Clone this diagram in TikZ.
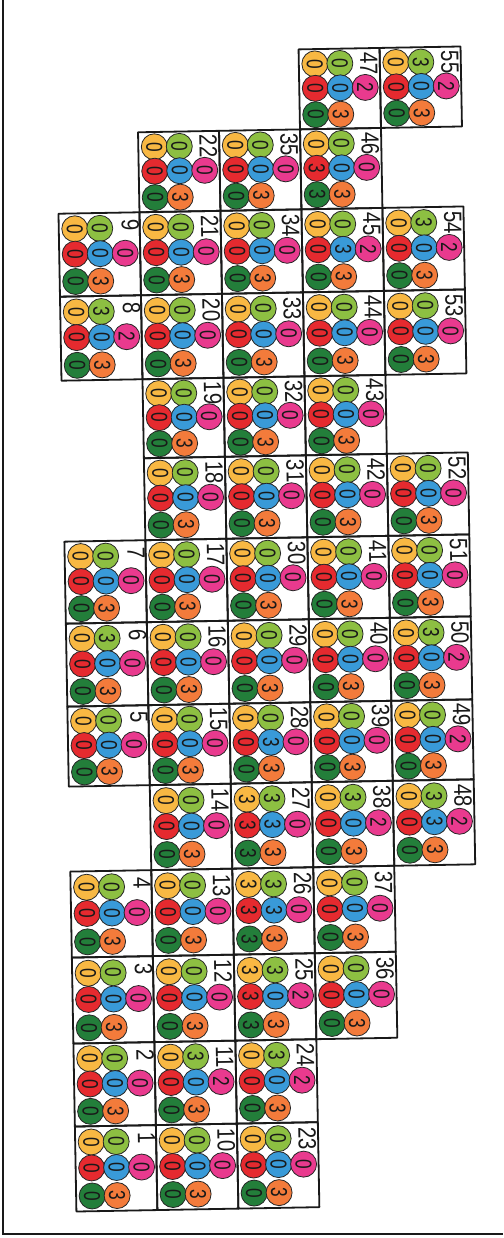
\documentclass[tikz,border=0pt]{standalone}
\usepackage{fontspec}
\newfontfamily\beadfont[FakeStretch=0.75]{Liberation Sans}
\newfontfamily\labelfont[FakeStretch=0.82]{Liberation Sans}
\definecolor{cY}{HTML}{F8B843}
\definecolor{cLG}{HTML}{8DBF42}
\definecolor{cR}{HTML}{E52A2F}
\definecolor{cB}{HTML}{399AD8}
\definecolor{cP}{HTML}{E93A8E}
\definecolor{cDG}{HTML}{237E3A}
\definecolor{cO}{HTML}{F37B3B}
\tikzset{
  bead/.style={circle, draw=black!85, line width=0.8pt, minimum size=26pt, inner sep=0pt,
    font=\beadfont\fontsize{23}{23}\selectfont, text=black!90, rotate=-90},
  cellnum/.style={inner sep=0pt, font=\labelfont\fontsize{25}{25}\selectfont, text=black!90, rotate=-89},
  cellbox/.style={draw=black!90, line width=1.8pt, line join=round},
  framel/.style={draw=black!90, line width=1.8pt},
}
\def\RY{{50,130,210,293,377,456,538,620,703,783,868,954,1040,1123,1208}}
\def\cells{1/0/13/0/0/0/0/0/0/3,2/0/12/0/0/0/0/0/0/3,3/0/11/0/0/0/0/0/0/3,4/0/10/0/0/0/0/0/0/3,
5/0/8/0/0/0/0/0/0/3,6/0/7/0/3/0/0/0/0/3,7/0/6/0/0/0/0/0/0/3,8/0/3/0/3/0/0/2/0/3,9/0/2/0/0/0/0/0/0/3,
10/1/13/0/0/0/0/0/0/3,11/1/12/0/3/0/0/2/0/3,12/1/11/0/0/0/0/0/0/3,13/1/10/0/0/0/0/0/0/3,
14/1/9/0/0/0/0/0/0/3,15/1/8/0/0/0/0/0/0/3,16/1/7/0/0/0/0/0/0/3,17/1/6/0/0/0/0/0/0/3,
18/1/5/0/0/0/0/0/0/3,19/1/4/0/0/0/0/0/0/3,20/1/3/0/0/0/0/0/0/3,21/1/2/0/0/0/0/0/0/3,22/1/1/0/0/0/0/0/0/3,
23/2/13/0/0/0/0/0/0/3,24/2/12/0/3/0/0/2/0/3,25/2/11/3/3/3/0/2/3/3,26/2/10/3/3/3/3/0/3/3,
27/2/9/3/3/3/3/0/3/3,28/2/8/0/0/0/3/0/0/3,29/2/7/0/0/0/0/0/0/3,30/2/6/0/0/0/0/0/0/3,
31/2/5/0/0/0/0/0/0/3,32/2/4/0/0/0/0/0/0/3,33/2/3/0/0/0/0/0/0/3,34/2/2/0/0/0/0/0/0/3,35/2/1/0/0/0/0/0/0/3,
36/3/11/0/0/0/0/0/0/3,37/3/10/0/0/0/0/0/0/3,38/3/9/0/3/0/0/2/0/3,39/3/8/0/0/0/0/0/0/3,
40/3/7/0/0/0/0/0/0/3,41/3/6/0/0/0/0/0/0/3,42/3/5/0/0/0/0/0/0/3,43/3/4/0/0/0/0/0/0/3,
44/3/3/0/0/0/0/0/0/3,45/3/2/0/0/0/3/2/0/3,46/3/1/0/0/3/0/0/3/3,47/3/0/0/0/0/0/2/0/3,
48/4/9/0/3/0/3/2/0/3,49/4/8/0/0/0/0/2/0/3,50/4/7/0/3/0/0/2/0/3,51/4/6/0/0/0/0/0/0/3,
52/4/5/0/0/0/0/0/0/3,53/4/3/0/0/0/0/0/0/3,54/4/2/0/3/0/0/2/0/3,55/4/0/0/3/0/0/2/0/3}
\begin{document}
\begin{tikzpicture}[x=1pt,y=-1pt]
\useasboundingbox (0,0) rectangle (503,1238);
\fill[white] (0,0) rectangle (503,1238);
\coordinate (fTL) at (3,0);
\coordinate (fBL) at (3,1234);
\coordinate (fBR) at (503,1234);
\draw[framel] (fTL) -- (fBL) -- (fBR);
\begin{scope}[rotate around={1.03:(270,630)}]
  % cell borders
  \foreach \n/\c/\r/\vy/\vlg/\vr/\vb/\vp/\vdg/\vo in \cells {
    \pgfmathsetmacro\xa{66+81*\c}
    \pgfmathsetmacro\xb{\xa+81}
    \pgfmathsetmacro\ya{\RY[\r]}
    \pgfmathsetmacro\yb{\RY[\r+1]}
    \coordinate (k\n-a) at (\xa,\ya);
    \coordinate (k\n-b) at (\xb,\yb);
    \draw[cellbox] (k\n-a) rectangle (k\n-b);
  }
  % beads and numbers
  \foreach \n/\c/\r/\vy/\vlg/\vr/\vb/\vp/\vdg/\vo in \cells {
    \pgfmathsetmacro\xa{66+81*\c}
    \pgfmathsetmacro\ya{\RY[\r]}
    \pgfmathsetmacro\hh{\RY[\r+1]-\ya}
    \pgfmathsetmacro\yt{\ya+0.185*\hh}
    \pgfmathsetmacro\ym{\ya+0.49*\hh}
    \pgfmathsetmacro\yl{\ya+0.82*\hh}
    \pgfmathsetmacro\ynum{\ya+(\n<10 ? 0.15 : 0.19)*\hh}
    \pgfmathsetmacro\xnum{\xa+(\n<10 ? 71.5 : 70)}
    \node[bead, fill=cY]  (b\n-y)  at ({\xa+16},\yt) {\vy};
    \node[bead, fill=cLG] (b\n-lg) at ({\xa+41},\yt) {\vlg};
    \node[bead, fill=cR]  (b\n-r)  at ({\xa+16},\ym) {\vr};
    \node[bead, fill=cB]  (b\n-b)  at ({\xa+41},\ym) {\vb};
    \node[bead, fill=cP]  (b\n-p)  at ({\xa+66},\ym) {\vp};
    \node[bead, fill=cDG] (b\n-dg) at ({\xa+16},\yl) {\vdg};
    \node[bead, fill=cO]  (b\n-o)  at ({\xa+41},\yl) {\vo};
    \node[cellnum] (n\n) at (\xnum,\ynum) {\n};
  }
\end{scope}
\end{tikzpicture}
\end{document}
